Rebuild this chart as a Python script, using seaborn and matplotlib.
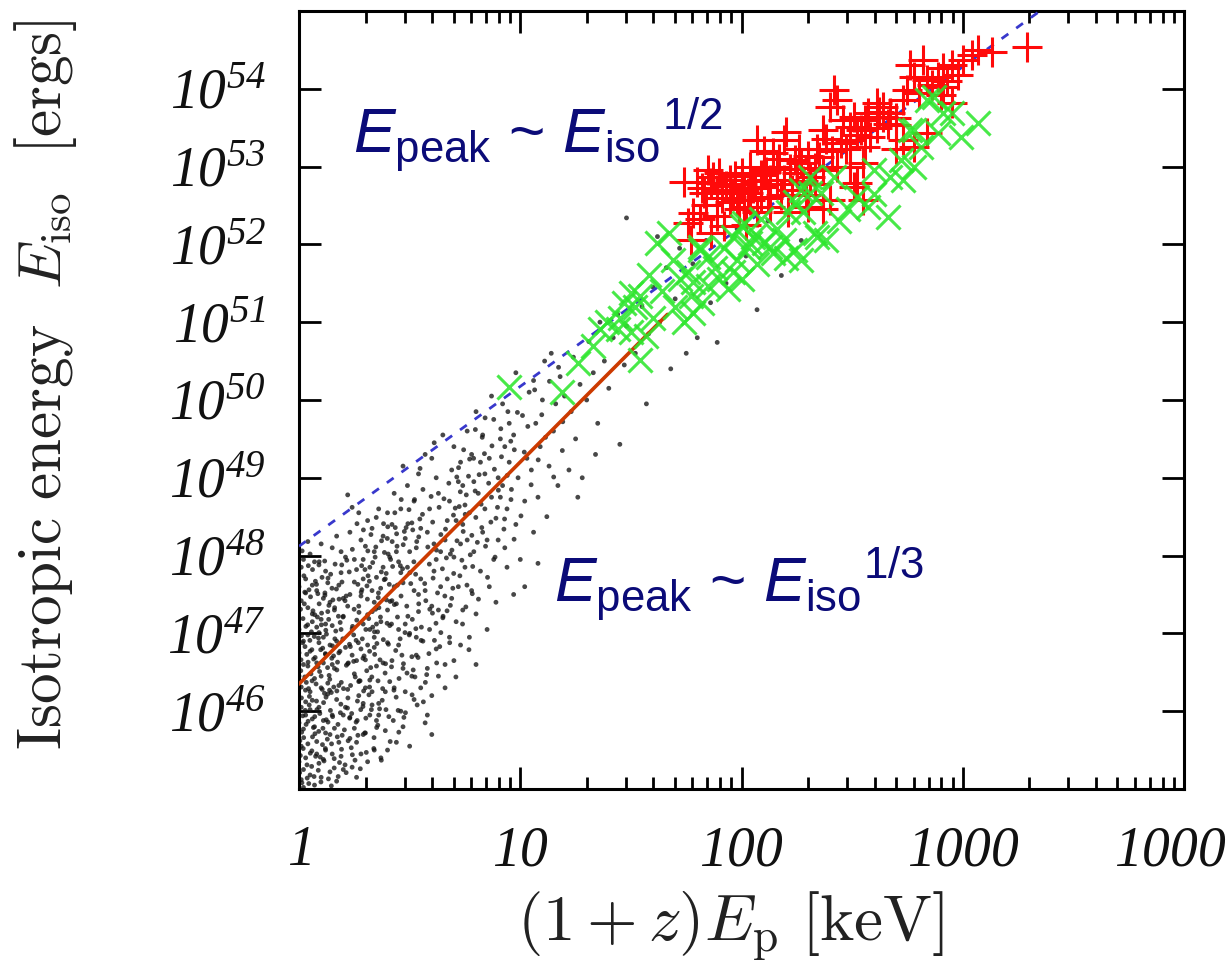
import numpy as np
import pandas as pd
import matplotlib
matplotlib.use("Agg")
import matplotlib.pyplot as plt
from matplotlib.ticker import FixedLocator, LogLocator, NullLocator, NullFormatter
import seaborn as sns

# ---------------------------------------------------------------
# Data (log10 of (1+z)E_p in keV, log10 of E_iso in erg)
# ---------------------------------------------------------------

# simulated population (small black dots)
DOT_LOG_EP = [
    0.01, 0.03, 0.02, 0.05, 0.01, 0.04, 0.02, 0.06, 0.01, 0.03,
    0.07, 0.09, 0.08, 0.11, 0.06, 0.10, 0.12, 0.09, 0.13, 0.08,
    0.14, 0.12, 0.15, 0.13, 0.15, 0.11, 0.14, 0.12, 0.05, 0.10,
    0.02, 0.04, 0.06, 0.03, 0.07, 0.05, 0.08, 0.04, 0.06, 0.02,
    0.10, 0.12, 0.09, 0.13, 0.11, 0.14, 0.10, 0.13, 0.09, 0.15,
    0.01, 0.03, 0.05, 0.02, 0.04, 0.06, 0.03, 0.01, 0.07, 0.04,
    0.08, 0.07, 0.10, 0.08, 0.12, 0.11, 0.15, 0.14, 0.01, 0.09,
    0.00, 0.00, 0.00, 0.00, 0.00, 0.00, 0.02, 0.05, 0.11, 0.15,
    0.17, 0.19, 0.16, 0.21, 0.18, 0.22, 0.17, 0.20, 0.23, 0.19,
    0.24, 0.26, 0.23, 0.27, 0.25, 0.28, 0.24, 0.27, 0.25, 0.29,
    0.31, 0.30, 0.33, 0.32, 0.30, 0.34, 0.31, 0.33, 0.32, 0.30,
    0.18, 0.20, 0.22, 0.16, 0.21, 0.19, 0.22, 0.18, 0.21, 0.17,
    0.26, 0.28, 0.25, 0.29, 0.27, 0.26, 0.29, 0.28, 0.26, 0.28,
    0.34, 0.35, 0.33, 0.35, 0.34, 0.35, 0.34, 0.35, 0.34, 0.33,
    0.20, 0.23, 0.17, 0.24, 0.20, 0.25, 0.23, 0.19, 0.31, 0.27,
    0.29, 0.32, 0.30, 0.31, 0.32, 0.29, 0.24, 0.22, 0.16, 0.18,
    0.37, 0.39, 0.36, 0.41, 0.38, 0.40, 0.37, 0.42, 0.39, 0.41,
    0.44, 0.46, 0.43, 0.47, 0.45, 0.48, 0.44, 0.47, 0.45, 0.48,
    0.50, 0.52, 0.51, 0.53, 0.50, 0.54, 0.52, 0.49, 0.53, 0.51,
    0.38, 0.40, 0.43, 0.46, 0.49, 0.52, 0.54, 0.42, 0.36, 0.47,
    0.39, 0.42, 0.45, 0.40, 0.43, 0.46, 0.50, 0.44, 0.38, 0.41,
    0.47, 0.55, 0.53, 0.55, 0.55, 0.36, 0.40, 0.48, 0.51, 0.54,
    0.57, 0.60, 0.58, 0.62, 0.59, 0.63, 0.57, 0.61, 0.64, 0.58,
    0.66, 0.68, 0.65, 0.69, 0.67, 0.70, 0.66, 0.71, 0.68, 0.72,
    0.73, 0.74, 0.72, 0.75, 0.73, 0.74, 0.75, 0.73, 0.70, 0.62,
    0.59, 0.63, 0.60, 0.65, 0.56, 0.61, 0.64, 0.60, 0.67, 0.69,
    0.56, 0.63, 0.71, 0.58, 0.60, 0.66, 0.70, 0.62, 0.74, 0.57,
    0.77, 0.80, 0.78, 0.82, 0.79, 0.83, 0.77, 0.81, 0.84, 0.78,
    0.86, 0.88, 0.85, 0.89, 0.87, 0.90, 0.86, 0.91, 0.88, 0.92,
    0.93, 0.94, 0.92, 0.95, 0.93, 0.76, 0.80, 0.83, 0.90, 0.80,
    0.85, 0.89, 0.94, 0.76, 0.82, 0.87, 0.79, 0.84, 0.91, 0.95,
    0.97, 1.00, 0.98, 1.02, 0.99, 1.03, 0.97, 1.01, 1.04, 0.98,
    1.06, 1.08, 1.05, 1.09, 1.07, 1.10, 1.06, 1.11, 1.13, 1.15,
    1.12, 1.16, 1.18, 1.14, 1.19, 1.17, 1.02, 1.08, 1.20, 0.96,
    1.22, 1.25, 1.23, 1.27, 1.24, 1.28, 1.30, 1.33, 1.31, 1.35,
    1.38, 1.36, 1.40, 1.42, 1.45, 1.44, 1.47, 1.26, 1.34, 1.48,
    1.52, 1.55, 1.58, 1.60, 1.63, 1.66, 1.70, 1.72, 1.75, 1.80,
    1.84, 1.89, 1.93, 1.98, 2.07, 2.18, 2.27, 1.48, 1.57, 1.68,
    1.78, 2.02, 1.62, 1.86, 2.12,
    0.013, 0.036, 0.058, 0.021, 0.072, 0.094, 0.047, 0.115, 0.008, 0.066,
    0.139, 0.027, 0.083, 0.124, 0.052, 0.161, 0.018, 0.104, 0.147, 0.176,
    0.189, 0.133, 0.156, 0.198, 0.041, 0.077, 0.119, 0.169, 0.091, 0.061,
    0.006, 0.029, 0.111, 0.183, 0.143, 0.039, 0.087, 0.194, 0.129, 0.068,
    0.011, 0.054, 0.098, 0.171, 0.152, 0.024, 0.117, 0.081, 0.044, 0.186,
    0.213, 0.236, 0.258, 0.221, 0.272, 0.294, 0.247, 0.315, 0.208, 0.266,
    0.339, 0.327, 0.283, 0.324, 0.352, 0.361, 0.318, 0.304, 0.347, 0.376,
    0.389, 0.333, 0.356, 0.398, 0.241, 0.277, 0.319, 0.369, 0.291, 0.261,
    0.406, 0.429, 0.412, 0.437, 0.403, 0.423, 0.445, 0.382, 0.418, 0.232,
    0.254, 0.289, 0.341, 0.372, 0.394, 0.216, 0.309, 0.286, 0.366, 0.441,
    0.223, 0.268, 0.302, 0.331, 0.358, 0.385, 0.414, 0.443, 0.476, 0.249,
    0.281, 0.312, 0.344, 0.373, 0.401, 0.433, 0.462, 0.492, 0.468, 0.487,
    0.457, 0.472, 0.498, 0.481, 0.451, 0.393, 0.357, 0.297, 0.264, 0.229,
    0.004, 0.017, 0.033, 0.049, 0.063, 0.079, 0.096, 0.108, 0.122, 0.136,
    0.151, 0.166, 0.181, 0.195, 0.009, 0.026, 0.042, 0.057, 0.071, 0.086,
    0.101, 0.116, 0.131, 0.146, 0.159, 0.174, 0.191, 0.014, 0.035, 0.069,
    0.512, 0.527, 0.541, 0.558, 0.573, 0.589, 0.604, 0.619, 0.633, 0.648,
    0.662, 0.677, 0.691, 0.706, 0.721, 0.736, 0.751, 0.766, 0.781, 0.796,
    0.516, 0.534, 0.552, 0.571, 0.587, 0.603, 0.622, 0.641, 0.659, 0.684,
    0.699, 0.714, 0.729, 0.744, 0.759, 0.774, 0.789, 0.522, 0.547, 0.611,
    0.806, 0.823, 0.838, 0.852, 0.867, 0.883, 0.897, 0.912, 0.926, 0.941,
    0.957, 0.972, 0.987, 1.003, 1.018, 1.034, 1.049, 1.065, 1.081, 1.097,
    1.114, 1.132, 1.151, 1.173, 1.192,
    0.003, 0.019, 0.032, 0.046, 0.059, 0.073, 0.088, 0.102, 0.117, 0.131,
    0.146, 0.159, 0.173, 0.187, 0.201, 0.214, 0.228, 0.242, 0.007, 0.022,
    0.037, 0.051, 0.065, 0.079, 0.093, 0.107, 0.121, 0.135, 0.149, 0.163,
    0.177, 0.192, 0.205, 0.219, 0.233, 0.247, 0.011, 0.026, 0.041, 0.056,
    0.071, 0.085, 0.099, 0.113, 0.128, 0.142, 0.157, 0.171, 0.185, 0.199,
    0.213, 0.227, 0.241, 0.005, 0.016, 0.031, 0.045, 0.061, 0.075, 0.089,
    0.105, 0.119, 0.134, 0.148, 0.162, 0.178, 0.193, 0.208, 0.222, 0.238,
    0.012, 0.028, 0.043, 0.058, 0.074, 0.091, 0.106, 0.123, 0.138, 0.153,
    0.253, 0.266, 0.279, 0.292, 0.306, 0.319, 0.333, 0.346, 0.359, 0.372,
    0.386, 0.399, 0.412, 0.426, 0.439, 0.452, 0.465, 0.479, 0.492, 0.505,
    0.519, 0.532, 0.546, 0.258, 0.271, 0.284, 0.298, 0.311, 0.325, 0.338,
    0.351, 0.364, 0.378, 0.391, 0.404, 0.418, 0.431, 0.444, 0.458, 0.471,
    0.484, 0.497, 0.511, 0.524, 0.538, 0.262, 0.276, 0.289, 0.302, 0.316,
    0.329, 0.342, 0.355, 0.368, 0.381, 0.395, 0.408, 0.421, 0.435, 0.448,
    0.461, 0.474, 0.488, 0.501, 0.514, 0.528, 0.541, 0.263, 0.307, 0.349,
    0.553, 0.568, 0.582, 0.597, 0.612, 0.626, 0.641, 0.655, 0.669, 0.684,
    0.698, 0.713, 0.727, 0.742, 0.756, 0.771, 0.785, 0.799, 0.814, 0.828,
    0.843, 0.857, 0.872, 0.886, 0.901, 0.915, 0.929, 0.944, 0.958, 0.973,
    0.562, 0.577, 0.591, 0.606, 0.621, 0.636, 0.651, 0.666, 0.681, 0.695,
    0.709, 0.724, 0.739, 0.754, 0.768, 0.783, 0.797, 0.811, 0.826, 0.841,
]
DOT_LOG_EISO = [
    45.12, 45.40, 45.77, 46.02, 46.31, 46.58, 46.90, 47.15, 47.42, 47.70,
    45.05, 45.33, 45.61, 45.88, 46.14, 46.45, 46.73, 47.01, 47.28, 47.55,
    45.22, 45.50, 45.95, 46.22, 46.60, 46.95, 47.40, 47.80, 48.02, 48.15,
    45.25, 45.58, 45.90, 46.12, 46.42, 46.77, 47.08, 47.33, 47.62, 47.95,
    45.15, 45.72, 46.05, 46.36, 46.62, 46.85, 47.18, 47.65, 47.88, 48.10,
    45.55, 45.95, 46.25, 46.60, 46.98, 47.25, 47.52, 47.85, 47.92, 48.18,
    45.45, 45.80, 46.30, 46.62, 47.12, 47.45, 47.10, 45.70, 46.05, 46.88,
    45.35, 45.85, 46.45, 46.75, 47.05, 47.60, 45.02, 45.18, 45.38, 45.45,
    45.10, 45.42, 45.78, 46.05, 46.33, 46.61, 46.90, 47.22, 47.50, 47.78,
    45.28, 45.60, 45.92, 46.20, 46.48, 46.80, 47.06, 47.35, 47.66, 47.95,
    45.35, 45.72, 46.08, 46.40, 46.66, 46.95, 47.24, 47.55, 47.85, 48.12,
    45.60, 45.95, 46.28, 46.55, 46.82, 47.05, 47.35, 47.62, 47.98, 48.25,
    45.15, 45.45, 45.78, 46.10, 46.38, 46.65, 47.12, 47.48, 47.82, 48.20,
    45.50, 45.88, 46.25, 46.58, 46.82, 47.12, 47.40, 47.72, 48.05, 48.35,
    45.25, 45.65, 46.15, 46.72, 47.45, 47.95, 48.30, 48.05, 48.45, 48.55,
    45.70, 45.95, 46.30, 46.85, 47.05, 47.70, 48.62, 48.78, 47.30, 46.75,
    45.40, 45.75, 46.10, 46.38, 46.62, 46.88, 47.15, 47.42, 47.70, 47.98,
    45.60, 46.00, 46.30, 46.55, 46.85, 47.12, 47.38, 47.65, 47.92, 48.22,
    45.55, 46.15, 46.45, 46.72, 47.00, 47.28, 47.55, 47.85, 48.10, 48.42,
    48.25, 48.55, 48.80, 48.60, 48.90, 48.70, 49.05, 48.40, 48.60, 49.15,
    46.25, 46.65, 47.05, 47.30, 47.60, 47.78, 48.05, 48.05, 47.85, 47.10,
    45.80, 46.30, 46.95, 47.70, 48.35, 45.95, 45.50, 46.25, 46.70, 47.50,
    45.85, 46.20, 46.55, 46.80, 47.05, 47.30, 47.55, 47.80, 48.05, 48.30,
    46.60, 46.95, 47.20, 47.45, 47.70, 47.98, 48.20, 48.45, 48.70, 48.95,
    46.85, 47.30, 47.60, 47.85, 48.15, 48.40, 48.65, 49.20, 49.40, 49.00,
    48.60, 48.80, 49.25, 49.55, 48.85, 48.15, 47.60, 47.35, 48.45, 49.10,
    46.90, 46.45, 47.15, 45.95, 45.70, 46.30, 46.65, 47.95, 48.90, 49.30,
    46.95, 47.25, 47.55, 47.80, 48.05, 48.30, 48.55, 48.80, 49.05, 49.30,
    47.60, 47.95, 48.20, 48.48, 48.75, 49.00, 49.25, 49.50, 49.75, 49.95,
    48.10, 48.60, 48.90, 49.20, 49.40, 49.60, 49.85, 49.55, 48.20, 46.60,
    47.05, 47.40, 47.85, 48.20, 49.20, 50.05, 48.95, 48.60, 48.75, 49.70,
    47.50, 47.95, 48.40, 48.70, 49.00, 49.25, 49.55, 49.80, 50.10, 50.35,
    48.30, 48.75, 49.10, 49.40, 49.70, 50.00, 50.25, 50.50, 49.15, 49.60,
    48.50, 49.95, 50.30, 50.60, 49.35, 48.90, 47.60, 47.90, 50.05, 48.85,
    49.10, 49.50, 49.85, 50.20, 50.55, 49.00, 50.00, 50.35, 50.75, 49.70,
    50.50, 51.00, 50.15, 50.80, 49.43, 51.10, 50.45, 48.75, 49.30, 50.95,
    50.60, 51.20, 50.85, 51.45, 51.00, 51.70, 51.30, 51.95, 50.60, 50.80,
    52.05, 50.74, 51.50, 52.20, 51.16, 51.60, 52.05, 52.34, 49.95, 50.40,
    51.75, 51.85, 52.10, 51.25, 52.30,
    45.08, 45.31, 45.49, 45.66, 45.71, 45.97, 46.19, 46.23, 46.52, 46.67,
    46.41, 46.83, 47.21, 46.99, 47.47, 47.33, 47.19, 47.72, 45.58, 45.83,
    46.09, 45.13, 46.71, 46.93, 45.87, 46.35, 45.52, 47.57, 47.38, 47.82,
    45.43, 46.27, 46.11, 45.34, 47.76, 47.11, 45.24, 47.66, 46.56, 45.16,
    46.97, 46.48, 46.79, 46.26, 45.93, 47.38, 47.52, 46.02, 45.07, 47.14,
    45.21, 45.53, 45.86, 46.17, 46.39, 46.71, 46.98, 47.19, 47.42, 47.63,
    45.66, 46.02, 47.87, 46.56, 46.87, 47.33, 47.67, 45.47, 48.11, 46.14,
    46.49, 47.91, 45.82, 47.13, 48.08, 45.26, 46.31, 47.58, 48.33, 47.17,
    45.93, 46.27, 47.41, 46.78, 48.02, 47.86, 47.21, 48.41, 46.57, 46.83,
    46.44, 46.06, 47.02, 45.37, 47.77, 47.94, 47.44, 46.93, 46.66, 48.28,
    46.62, 46.88, 47.05, 47.28, 47.46, 47.69, 47.95, 48.12, 48.31, 47.31,
    47.53, 47.74, 47.98, 48.19, 48.37, 48.55, 48.72, 48.41, 47.83, 47.35,
    46.93, 46.61, 46.98, 45.98, 45.73, 46.02, 46.39, 45.72, 46.13, 45.91,
    45.62, 45.94, 46.37, 46.91, 47.29, 47.63, 45.41, 45.78, 46.18, 46.46,
    46.84, 47.03, 47.44, 45.69, 46.66, 47.53, 47.87, 45.29, 45.93, 46.57,
    47.11, 47.93, 45.86, 46.24, 45.27, 46.63, 46.37, 48.06, 46.73, 46.96,
    47.18, 47.76, 48.24, 48.53, 47.42, 47.89, 48.43, 47.13, 48.62, 47.83,
    48.34, 48.93, 48.07, 48.61, 49.13, 47.94, 48.53, 49.02, 48.26, 48.83,
    46.53, 46.08, 46.91, 46.37, 46.74, 47.26, 46.62, 47.01, 47.48, 47.36,
    47.77, 48.19, 48.82, 49.36, 47.62, 48.01, 49.25, 48.72, 49.12, 49.45,
    48.17, 48.66, 49.31, 47.72, 48.43, 49.11, 48.62, 49.63, 48.34, 49.03,
    49.47, 48.21, 49.84, 48.51, 49.33, 49.66, 48.91, 50.13, 49.23, 49.81,
    49.52, 50.24, 49.01, 50.42, 49.72,
    45.21, 45.52, 45.83, 46.08, 46.39, 46.69, 46.94, 47.26, 47.49, 47.71,
    45.04, 45.39, 45.67, 45.98, 46.29, 46.59, 46.86, 47.09, 47.31, 47.74,
    45.14, 45.46, 45.79, 46.13, 46.51, 46.81, 47.04, 47.36, 47.58, 47.89,
    45.16, 45.51, 45.76, 46.04, 46.33, 46.64, 46.17, 46.44, 46.63, 47.02,
    47.24, 47.51, 45.09, 45.36, 45.64, 46.01, 46.31, 46.53, 46.77, 47.21,
    47.48, 47.79, 45.44, 44.98, 46.88, 47.09, 47.56, 45.67, 45.42, 45.74,
    46.28, 46.74, 47.18, 46.68, 46.93, 47.22, 47.88, 45.31, 45.62, 45.97,
    45.73, 46.01, 46.29, 46.79, 47.67, 47.92, 45.57, 45.89, 46.27, 47.43,
    45.37, 45.69, 46.02, 46.26, 46.52, 46.77, 47.08, 47.31, 47.52, 47.79,
    48.04, 48.22, 45.61, 45.88, 46.18, 46.42, 46.72, 47.01, 47.22, 47.64,
    47.92, 48.18, 48.47, 46.91, 47.27, 47.56, 47.82, 48.06, 48.27, 45.52,
    45.79, 46.03, 46.29, 46.61, 46.86, 47.12, 47.37, 47.62, 47.87, 48.14,
    48.36, 48.59, 46.21, 46.44, 46.69, 48.41, 46.39, 46.68, 45.91, 46.21,
    46.44, 46.73, 47.02, 47.21, 46.92, 47.43, 47.63, 48.18, 48.36, 46.01,
    47.48, 45.92, 46.49, 47.78, 48.33, 47.06, 47.38, 45.88, 47.61, 48.49,
    47.08, 47.64, 48.11, 48.76, 46.91, 47.52, 48.27, 48.73, 47.29, 48.02,
    48.52, 49.01, 47.74, 48.31, 48.78, 49.24, 47.86, 48.49, 49.04, 49.52,
    48.12, 48.93, 49.41, 47.98, 48.84, 49.27, 48.47, 49.85, 48.72, 49.36,
    46.12, 46.47, 47.31, 47.71, 48.07, 46.83, 47.22, 47.97, 46.88, 47.58,
    46.44, 48.63, 47.12, 47.34, 46.79, 47.51, 49.62, 47.44, 48.36, 49.77,
]

# observed bursts, red "+"
RED_LOG_EP = [
    3.29, 3.07, 3.04, 3.00, 2.95, 2.91, 2.82, 2.78, 2.84, 2.89,
    2.91, 2.95, 2.75, 2.73, 2.64, 2.61, 2.57, 2.51, 2.43, 2.40,
    2.42, 2.46, 2.49, 2.54, 2.58, 2.64, 2.67, 2.73, 2.78, 2.84,
    2.49, 2.37, 2.34, 2.30, 2.24, 2.19, 2.07, 2.14, 2.16, 2.10,
    2.04, 2.00, 1.95, 1.90, 1.86, 1.80, 1.83, 1.89, 1.96, 2.03,
    2.09, 2.13, 2.19, 2.25, 2.31, 2.37, 2.43, 2.49, 2.52, 2.40,
    2.37, 2.21, 2.13, 2.07, 2.01, 1.95, 1.89, 1.81, 1.76, 1.86,
    1.92, 1.98, 2.04, 2.09, 2.70, 1.77, 2.02, 2.29, 2.33, 2.18,
    2.09, 2.00, 2.47, 2.56, 2.70, 2.98, 3.13, 2.76, 2.90, 2.51,
    2.55, 2.30,
    1.82, 1.87, 1.93, 1.97, 2.01, 2.06, 2.11, 2.16, 2.22, 2.27,
    1.84, 1.91, 1.99, 2.05, 2.12, 2.17, 2.23, 2.28, 2.35, 2.41,
    2.45, 2.52, 2.56, 2.61, 2.66, 2.70, 2.62, 2.80, 2.86, 2.93,
    1.78, 1.85, 2.26, 2.33, 2.38, 2.55, 1.74, 2.10, 2.20,
]
RED_LOG_EISO = [
    54.54, 54.50, 54.44, 54.37, 54.31, 54.27, 54.37, 54.15, 54.11, 54.15,
    54.02, 53.82, 53.99, 53.86, 53.77, 53.82, 53.69, 53.64, 53.86, 53.77,
    53.99, 53.60, 53.51, 53.47, 53.38, 53.64, 53.69, 53.34, 53.25, 53.43,
    53.34, 53.47, 53.22, 53.13, 53.09, 53.34, 53.34, 53.18, 53.00, 52.96,
    53.00, 52.92, 52.83, 52.92, 52.79, 52.80, 52.66, 52.70, 52.66, 52.66,
    52.74, 52.83, 52.83, 52.92, 52.87, 52.96, 53.00, 53.00, 52.79, 52.57,
    52.45, 52.41, 52.48, 52.41, 52.48, 52.54, 52.36, 52.32, 52.28, 52.15,
    52.23, 52.57, 52.57, 52.61, 53.22, 52.06, 52.25, 52.64, 52.77, 52.64,
    52.89, 52.77, 53.22, 53.60, 53.54, 54.18, 54.47, 54.31, 53.92, 52.74,
    52.57, 52.48,
    52.72, 52.86, 52.75, 52.88, 52.70, 52.81, 52.93, 52.78, 52.97, 53.05,
    52.50, 52.60, 52.45, 52.72, 52.60, 53.10, 52.70, 52.82, 53.12, 53.20,
    53.30, 53.40, 53.25, 53.50, 53.55, 53.62, 53.70, 53.95, 54.05, 54.10,
    52.40, 52.95, 53.22, 52.98, 53.35, 53.05, 52.80, 53.20, 53.45,
]

# observed bursts, green "x"
GREEN_LOG_EP = [
    1.62, 1.50, 1.54, 1.47, 1.39, 1.44, 1.36, 1.50, 1.26, 1.19,
    1.54, 1.57, 1.76, 1.78, 1.72, 1.77, 1.78, 1.85, 1.90, 1.94,
    1.96, 1.85, 1.81, 2.03, 2.05, 2.10, 1.98, 2.14, 2.24, 2.27,
    2.33, 2.31, 2.24, 2.00, 0.95, 2.87, 2.95, 2.78, 2.81, 2.72,
    2.67, 2.60, 2.52, 2.57, 2.48, 2.36, 2.31, 2.27, 2.42, 2.21,
    2.28, 2.34, 2.09, 2.01, 1.96, 2.04, 2.13, 2.19, 1.81, 1.67,
    2.84, 2.91, 3.07, 2.99, 2.89, 2.76, 2.78, 2.73,
    1.45, 1.52, 1.60, 1.64, 1.70, 1.74, 1.82, 1.88, 1.92, 2.00,
    2.07, 2.16, 2.20, 2.38, 2.44, 2.60, 2.66, 1.69, 1.58, 1.33,
]
GREEN_LOG_EISO = [
    52.02, 51.38, 51.33, 51.25, 51.00, 50.91, 50.91, 50.87, 50.48, 50.10,
    50.52, 50.82, 51.64, 51.51, 51.55, 51.33, 51.12, 51.46, 51.55, 51.42,
    51.64, 51.84, 51.97, 51.97, 52.10, 52.02, 51.80, 51.89, 51.93, 51.80,
    52.15, 52.66, 52.54, 52.23, 50.17, 53.90, 53.69, 53.47, 53.25, 53.09,
    52.87, 52.96, 52.61, 52.48, 52.45, 52.66, 52.87, 52.70, 52.87, 52.41,
    52.41, 52.10, 52.32, 52.28, 52.10, 52.02, 51.97, 52.06, 51.93, 52.15,
    53.86, 53.69, 53.56, 53.38, 53.43, 53.47, 53.00, 52.83,
    51.05, 51.20, 51.05, 51.40, 51.20, 51.00, 51.25, 51.70, 51.95, 51.55,
    51.75, 52.20, 51.82, 52.05, 52.30, 52.65, 52.35, 51.80, 51.60, 50.70,
]

# relations drawn as lines (end points)
HALF_LINE_LOG_EP = [0.0, 3.5]
HALF_LINE_LOG_EISO = [48.12, 55.31]
THIRD_LINE_LOG_EP = [0.0, 1.665]
THIRD_LINE_LOG_EISO = [46.35, 51.10]

X_TICKS = [1, 10, 100, 1000, 10000]
X_TICK_LABELS = ["1", "10", "100", "1000", "10000"]
Y_TICK_EXPONENTS = [46, 47, 48, 49, 50, 51, 52, 53, 54]


def to_frame(log_ep, log_eiso):
    return pd.DataFrame({"ep": np.power(10.0, np.asarray(log_ep, dtype=float)),
                         "eiso": np.power(10.0, np.asarray(log_eiso, dtype=float))})


dots = to_frame(DOT_LOG_EP, DOT_LOG_EISO)
red = to_frame(RED_LOG_EP, RED_LOG_EISO)
green = to_frame(GREEN_LOG_EP, GREEN_LOG_EISO)
half_line = to_frame(HALF_LINE_LOG_EP, HALF_LINE_LOG_EISO)
third_line = to_frame(THIRD_LINE_LOG_EP, THIRD_LINE_LOG_EISO)

# ---------------------------------------------------------------
# Style
# ---------------------------------------------------------------
sns.set_theme(style="ticks")
plt.rcParams["font.family"] = ["Liberation Sans", "DejaVu Sans"]
# math text: sans for the relation labels, \mathbf slot holds italic serif for ticks
plt.rcParams["mathtext.fontset"] = "custom"
plt.rcParams["mathtext.rm"] = "Liberation Sans"
plt.rcParams["mathtext.it"] = "Liberation Sans:italic"
plt.rcParams["mathtext.bf"] = "Liberation Serif:italic"

fig = plt.figure(figsize=(12.26, 9.61), dpi=100)
ax = fig.add_axes([0.2439, 0.1790, 0.7219, 0.8096])
ax.set_xscale("log")
ax.set_yscale("log")
ax.set_xlim(1, 1e4)
ax.set_ylim(1e45, 1e55)

sns.scatterplot(data=dots, x="ep", y="eiso", ax=ax, marker="o", s=12,
                color="#151515", edgecolor="none", alpha=0.78, linewidth=0,
                legend=False, zorder=2)

sns.lineplot(data=half_line, x="ep", y="eiso", ax=ax, color="#3838cc",
             linewidth=2.0, dashes=(3, 3.5), legend=False, zorder=3,
             estimator=None, sort=False)
sns.lineplot(data=third_line, x="ep", y="eiso", ax=ax, color="#cc3a00",
             linewidth=2.6, legend=False, zorder=3, estimator=None, sort=False)

sns.scatterplot(data=red, x="ep", y="eiso", ax=ax, marker="+", s=440,
                color="#ff0a0a", linewidth=2.2, legend=False, zorder=4)
sns.scatterplot(data=green, x="ep", y="eiso", ax=ax, marker="x", s=300,
                color="#2ee62e", linewidth=2.2, alpha=0.88, legend=False,
                zorder=5)

# frame and ticks
for side in ["left", "right", "top", "bottom"]:
    ax.spines[side].set_visible(True)
    ax.spines[side].set_linewidth(2.2)
    ax.spines[side].set_color("black")

ax.xaxis.set_major_locator(FixedLocator(X_TICKS))
ax.xaxis.set_minor_locator(LogLocator(base=10, subs=np.arange(2, 10), numticks=20))
ax.xaxis.set_minor_formatter(NullFormatter())
ax.set_xticks(X_TICKS)
ax.set_xticklabels([r"$\mathbf{%s}$" % t for t in X_TICK_LABELS])

y_ticks = [10.0 ** e for e in range(45, 56)]
ax.yaxis.set_major_locator(FixedLocator(y_ticks))
ax.yaxis.set_minor_locator(NullLocator())
ax.set_yticks(y_ticks)
ax.set_yticklabels([r"$\mathbf{10}^{\mathbf{%d}}$" % e if e in Y_TICK_EXPONENTS else ""
                    for e in range(45, 56)])

ax.tick_params(axis="both", which="major", direction="in", length=16,
               width=2.0, top=True, right=True, color="black")
ax.tick_params(axis="x", which="minor", direction="in", length=8.5,
               width=2.0, top=True, bottom=True, color="black")
ax.tick_params(axis="y", which="major", pad=24)
ax.tick_params(axis="x", which="major", pad=26)

for lab in ax.get_xticklabels() + ax.get_yticklabels():
    lab.set_fontsize(40)
    lab.set_color("#111111")

ax.set_xlabel(r"$(1+z)E_{\rm p}\ [\mathrm{keV}]$", fontsize=47,
              math_fontfamily="cm", color="#222222")
ax.set_ylabel(r"$\mathrm{Isotropic\ energy}\ \ E_{\rm iso}\ \ [\mathrm{ergs}]$",
              fontsize=44, math_fontfamily="cm", color="#222222")
ax.xaxis.set_label_coords(0.487, -0.130)
ax.yaxis.set_label_coords(-0.249, 0.52)

# relation labels
ax.text(0.061, 0.817, r"$E_{\rm peak}$ ~ $E_{\rm iso}{}^{1/2}$",
        transform=ax.transAxes, fontsize=45, color="#0b0b78",
        ha="left", va="baseline", zorder=6)
ax.text(0.288, 0.240, r"$E_{\rm peak}$ ~ $E_{\rm iso}{}^{1/3}$",
        transform=ax.transAxes, fontsize=45, color="#0b0b78",
        ha="left", va="baseline", zorder=6)

ax.set_facecolor("white")
fig.patch.set_facecolor("white")
fig.savefig("out.png", dpi=100, facecolor="white")
